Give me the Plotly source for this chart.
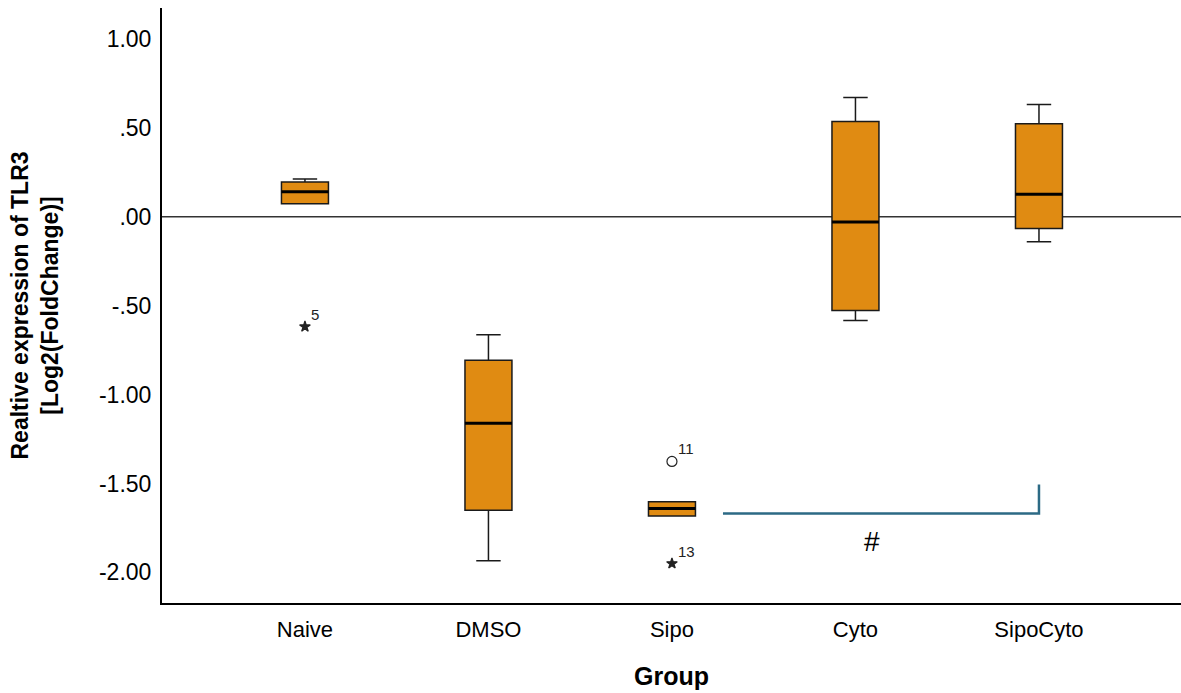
import plotly.graph_objects as go

# ---- data ----
groups = ["Naive", "DMSO", "Sipo", "Cyto", "SipoCyto"]
q1 = [0.073, -1.651, -1.683, -0.527, -0.066]
median = [0.140, -1.161, -1.641, -0.030, 0.127]
q3 = [0.196, -0.807, -1.602, 0.536, 0.523]
lower_whisker = [0.073, -1.934, -1.683, -0.583, -0.140]
upper_whisker = [0.213, -0.663, -1.602, 0.670, 0.631]

outlier_group = ["Naive", "Sipo", "Sipo"]
outlier_value = [-0.618, -1.376, -1.950]
outlier_kind = ["extreme", "outlier", "extreme"]
outlier_label = ["5", "11", "13"]

y_tickvals = [1.0, 0.5, 0.0, -0.5, -1.0, -1.5, -2.0]
y_ticktext = ["1.00", ".50", ".00", "-.50", "-1.00", "-1.50", "-2.00"]

# significance bracket between Sipo and SipoCyto
bracket_from = "Sipo"
bracket_to = "SipoCyto"
bracket_level = -1.669
bracket_tip = -1.505
bracket_text = "#"

# ---- styling ----
FONT = "Liberation Sans, Arial, sans-serif"
BOX_FILL = "#E08B12"
BOX_W = 0.256
idx = {g: i for i, g in enumerate(groups)}

fig = go.Figure()

for i, g in enumerate(groups):
    fig.add_trace(go.Box(
        x=[i], q1=[q1[i]], median=[median[i]], q3=[q3[i]],
        lowerfence=[lower_whisker[i]], upperfence=[upper_whisker[i]],
        width=BOX_W, whiskerwidth=0.52,
        fillcolor=BOX_FILL, line=dict(color="#1a1a1a", width=1.5),
        boxpoints=False, showlegend=False, hoverinfo="skip",
    ))

# thick median lines
for i, g in enumerate(groups):
    fig.add_shape(type="line", xref="x", yref="y",
                  x0=i - BOX_W / 2, x1=i + BOX_W / 2,
                  y0=median[i], y1=median[i],
                  line=dict(color="black", width=3), layer="above")

# outliers
for g, v, k, lab in zip(outlier_group, outlier_value, outlier_kind, outlier_label):
    sym = "star" if k == "extreme" else "circle-open"
    size = 8 if k == "extreme" else 10
    fig.add_trace(go.Scatter(
        x=[idx[g]], y=[v], mode="markers",
        marker=dict(symbol=sym, size=size, color="#222",
                    line=dict(color="#222", width=1.2)),
        showlegend=False, hoverinfo="skip",
    ))
    fig.add_annotation(x=idx[g], y=v, text=lab, showarrow=False,
                       xanchor="left", yanchor="bottom", xshift=4, yshift=2,
                       font=dict(family=FONT, size=15, color="#222"))

# zero reference line
fig.add_shape(type="line", xref="paper", yref="y", x0=0, x1=1, y0=0, y1=0,
              line=dict(color="#333", width=1.5), layer="below")

# bracket
bx0 = idx[bracket_from] + 0.278
bx1 = idx[bracket_to]
fig.add_trace(go.Scatter(
    x=[bx0, bx1, bx1], y=[bracket_level, bracket_level, bracket_tip],
    mode="lines", line=dict(color="#2C6A85", width=2.5),
    showlegend=False, hoverinfo="skip",
))
fig.add_annotation(x=(bx0 + bx1) / 2 - 0.05, y=bracket_level, text=bracket_text,
                   showarrow=False, yanchor="top", yshift=-10,
                   font=dict(family=FONT, size=28, color="black"))

fig.update_layout(
    width=1181, height=693,
    margin=dict(l=162, r=0, t=8, b=90),
    paper_bgcolor="white", plot_bgcolor="white",
    font=dict(family=FONT, color="black"),
    xaxis=dict(
        range=[-0.779, 4.774], tickvals=list(range(len(groups))), ticktext=groups,
        showgrid=False, zeroline=False, showline=True, linecolor="black", linewidth=2,
        ticks="", tickfont=dict(size=22, family=FONT), ticklabelstandoff=6,
        title=dict(text="<b>Group</b>", font=dict(size=25, family=FONT), standoff=26),
    ),
    yaxis=dict(
        range=[-2.172, 1.174], tickvals=y_tickvals, ticktext=y_ticktext,
        showgrid=False, zeroline=False, showline=True, linecolor="black", linewidth=2,
        ticks="", tickfont=dict(size=23, family=FONT), ticklabelstandoff=4,
        title=dict(text="<b>Realtive expression of TLR3<br>[Log2(FoldChange)]</b>",
                   font=dict(size=23, family=FONT), standoff=34),
    ),
)

fig.write_html("out.html", config={"displayModeBar": False},
               post_script="document.body.style.margin='0';document.body.style.overflow='hidden';")
